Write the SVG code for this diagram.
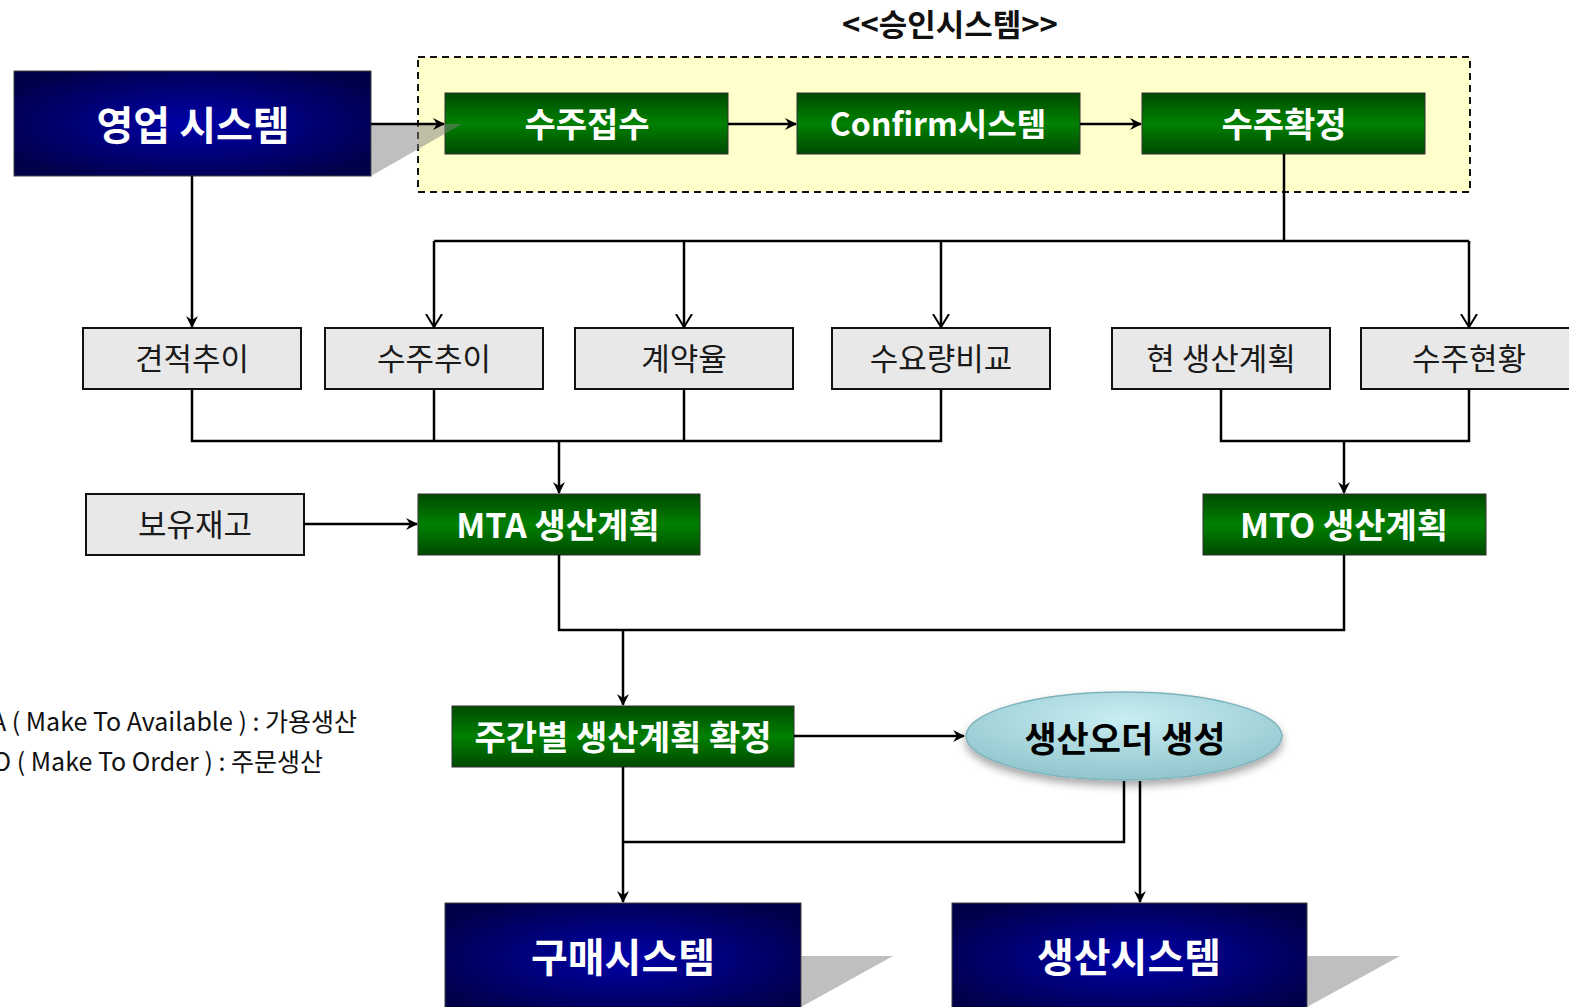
<svg xmlns="http://www.w3.org/2000/svg" width="1569" height="1007" viewBox="0 0 1569 1007">
<style>
.navy{stroke:#404040;stroke-width:1}
.green{stroke:#303030;stroke-width:1}
.gray{fill:#E8E8E8;stroke:#111;stroke-width:2}
.wtxt{fill:#fff;font-family:"Noto Sans CJK KR","Noto Sans",sans-serif;font-weight:bold;text-anchor:middle;dominant-baseline:central}
.gtxt{fill:#1a1a1a;font-family:"Noto Sans CJK KR","Noto Sans",sans-serif;font-size:31px;text-anchor:middle;dominant-baseline:central}
.shadow{fill:#808080;fill-opacity:0.5}
.conn path{fill:none;stroke:#000;stroke-width:2.5}
.legend{font-family:"Noto Sans CJK KR","Noto Sans",sans-serif;font-size:25px;fill:#111}
</style>
<defs>
<radialGradient id="navyG" cx="0.5" cy="0.5" r="0.6">
<stop offset="0" stop-color="#0000A8"/>
<stop offset="1" stop-color="#00004A"/>
</radialGradient>
<linearGradient id="greenG" x1="0" y1="0" x2="0" y2="1">
<stop offset="0" stop-color="#004A00"/>
<stop offset="0.5" stop-color="#008000"/>
<stop offset="1" stop-color="#004A00"/>
</linearGradient>
<radialGradient id="ellG" cx="0.5" cy="0.3" r="0.75">
<stop offset="0" stop-color="#C8EEF2"/>
<stop offset="1" stop-color="#8CC2CA"/>
</radialGradient>
<filter id="dsh" x="-10%" y="-20%" width="120%" height="150%">
<feDropShadow dx="0" dy="5" stdDeviation="4" flood-color="#000" flood-opacity="0.35"/>
</filter>
<marker id="af" viewBox="0 0 12 12" refX="11" refY="6" markerWidth="12" markerHeight="12" markerUnits="userSpaceOnUse" orient="auto">
<path d="M0,0 L12,6 L0,12 L4,6 Z" fill="#000"/>
</marker>
<marker id="av" viewBox="0 0 14 18" refX="13" refY="9" markerWidth="14" markerHeight="18" markerUnits="userSpaceOnUse" orient="auto">
<path d="M0,1 L13,9 L0,17" fill="none" stroke="#000" stroke-width="2"/>
</marker>
</defs>
<rect width="1569" height="1007" fill="#fff"/>

<text x="950" y="22" style="font-family:'Noto Sans CJK KR','Noto Sans',sans-serif;font-weight:bold;font-size:31px;fill:#111;text-anchor:middle;dominant-baseline:central">&lt;&lt;승인시스템&gt;&gt;</text>

<g id="approval-system">
<rect x="418" y="57" width="1052" height="135" fill="#FFFFCC" stroke="#111" stroke-width="2" stroke-dasharray="7,5"/>
</g>

<g id="sales-system">
<rect class="navy" x="14" y="71" width="357" height="105" fill="url(#navyG)"/>
<text class="wtxt" x="193" y="123" font-size="40">영업 시스템</text>
</g>

<g id="order-receipt">
<rect class="green" x="445" y="93" width="283" height="61" fill="url(#greenG)"/>
<text class="wtxt" x="587" y="122" font-size="34">수주접수</text>
</g>
<g id="confirm-system">
<rect class="green" x="797" y="93" width="283" height="61" fill="url(#greenG)"/>
<text class="wtxt" x="938" y="122" font-size="32">Confirm시스템</text>
</g>
<g id="order-confirm">
<rect class="green" x="1142" y="93" width="283" height="61" fill="url(#greenG)"/>
<text class="wtxt" x="1284" y="122" font-size="34">수주확정</text>
</g>
<polygon class="shadow" points="371,124 462,124 371,176"/>

<g id="quote-trend"><rect class="gray" x="83" y="328" width="218" height="61"/><text class="gtxt" x="192" y="356">견적추이</text></g>
<g id="order-trend"><rect class="gray" x="325" y="328" width="218" height="61"/><text class="gtxt" x="434" y="356">수주추이</text></g>
<g id="contract-rate"><rect class="gray" x="575" y="328" width="218" height="61"/><text class="gtxt" x="684" y="356">계약율</text></g>
<g id="demand-compare"><rect class="gray" x="832" y="328" width="218" height="61"/><text class="gtxt" x="941" y="356">수요량비교</text></g>
<g id="current-plan"><rect class="gray" x="1112" y="328" width="218" height="61"/><text class="gtxt" x="1221" y="356">현 생산계획</text></g>
<g id="order-status"><rect class="gray" x="1361" y="328" width="230" height="61"/><text class="gtxt" x="1469" y="356">수주현황</text></g>

<g id="inventory"><rect class="gray" x="86" y="494" width="218" height="61"/><text class="gtxt" x="195" y="522">보유재고</text></g>

<g id="mta-plan">
<rect class="green" x="418" y="494" width="282" height="61" fill="url(#greenG)"/>
<text class="wtxt" x="558" y="523" font-size="34">MTA 생산계획</text>
</g>
<g id="mto-plan">
<rect class="green" x="1203" y="494" width="283" height="61" fill="url(#greenG)"/>
<text class="wtxt" x="1344" y="523" font-size="34">MTO 생산계획</text>
</g>

<g id="weekly-plan">
<rect class="green" x="452" y="706" width="342" height="61" fill="url(#greenG)"/>
<text class="wtxt" x="623" y="735" font-size="34">주간별 생산계획 확정</text>
</g>

<g id="production-order">
<ellipse cx="1124" cy="736" rx="158" ry="44" fill="url(#ellG)" stroke="#7FB3BB" stroke-width="1.5" filter="url(#dsh)"/>
<text x="1125" y="736" style="font-family:'Noto Sans CJK KR','Noto Sans',sans-serif;font-weight:bold;font-size:35px;fill:#000;text-anchor:middle;dominant-baseline:central">생산오더 생성</text>
</g>

<g id="purchase-system">
<rect class="navy" x="445" y="903" width="356" height="110" fill="url(#navyG)"/>
<text class="wtxt" x="623" y="955" font-size="40">구매시스템</text>
<polygon class="shadow" points="801,956 893,956 801,1007"/>
</g>
<g id="production-system">
<rect class="navy" x="952" y="903" width="355" height="110" fill="url(#navyG)"/>
<text class="wtxt" x="1129" y="955" font-size="40">생산시스템</text>
<polygon class="shadow" points="1307,956 1400,956 1307,1007"/>
</g>

<g id="legend">
<text class="legend" x="357" y="731" text-anchor="end">MTA ( Make To Available ) : 가용생산</text>
<text class="legend" x="323" y="771" text-anchor="end">MTO ( Make To Order ) : 주문생산</text>
</g>

<g class="conn" id="connectors">
<path d="M371,124 H444" marker-end="url(#af)"/>
<path d="M728,124 H796" marker-end="url(#af)"/>
<path d="M1080,124 H1141" marker-end="url(#af)"/>
<path d="M192,176 V327" marker-end="url(#af)"/>
<path d="M1284,154 V241"/>
<path d="M434,241 H1469"/>
<path d="M434,241 V327" marker-end="url(#av)"/>
<path d="M684,241 V327" marker-end="url(#av)"/>
<path d="M941,241 V327" marker-end="url(#av)"/>
<path d="M1469,241 V327" marker-end="url(#av)"/>
<path d="M192,389 V441 H941 V389"/>
<path d="M434,389 V441"/>
<path d="M684,389 V441"/>
<path d="M559,441 V493" marker-end="url(#af)"/>
<path d="M1221,389 V441 H1469 V389"/>
<path d="M1344,441 V493" marker-end="url(#af)"/>
<path d="M304,524 H417" marker-end="url(#af)"/>
<path d="M559,555 V630 H1344 V555"/>
<path d="M623,630 V705" marker-end="url(#af)"/>
<path d="M794,736 H964" marker-end="url(#af)"/>
<path d="M623,767 V902" marker-end="url(#af)"/>
<path d="M1124,781 V842 H623"/>
<path d="M1140,781 V902" marker-end="url(#af)"/>
</g>
</svg>
